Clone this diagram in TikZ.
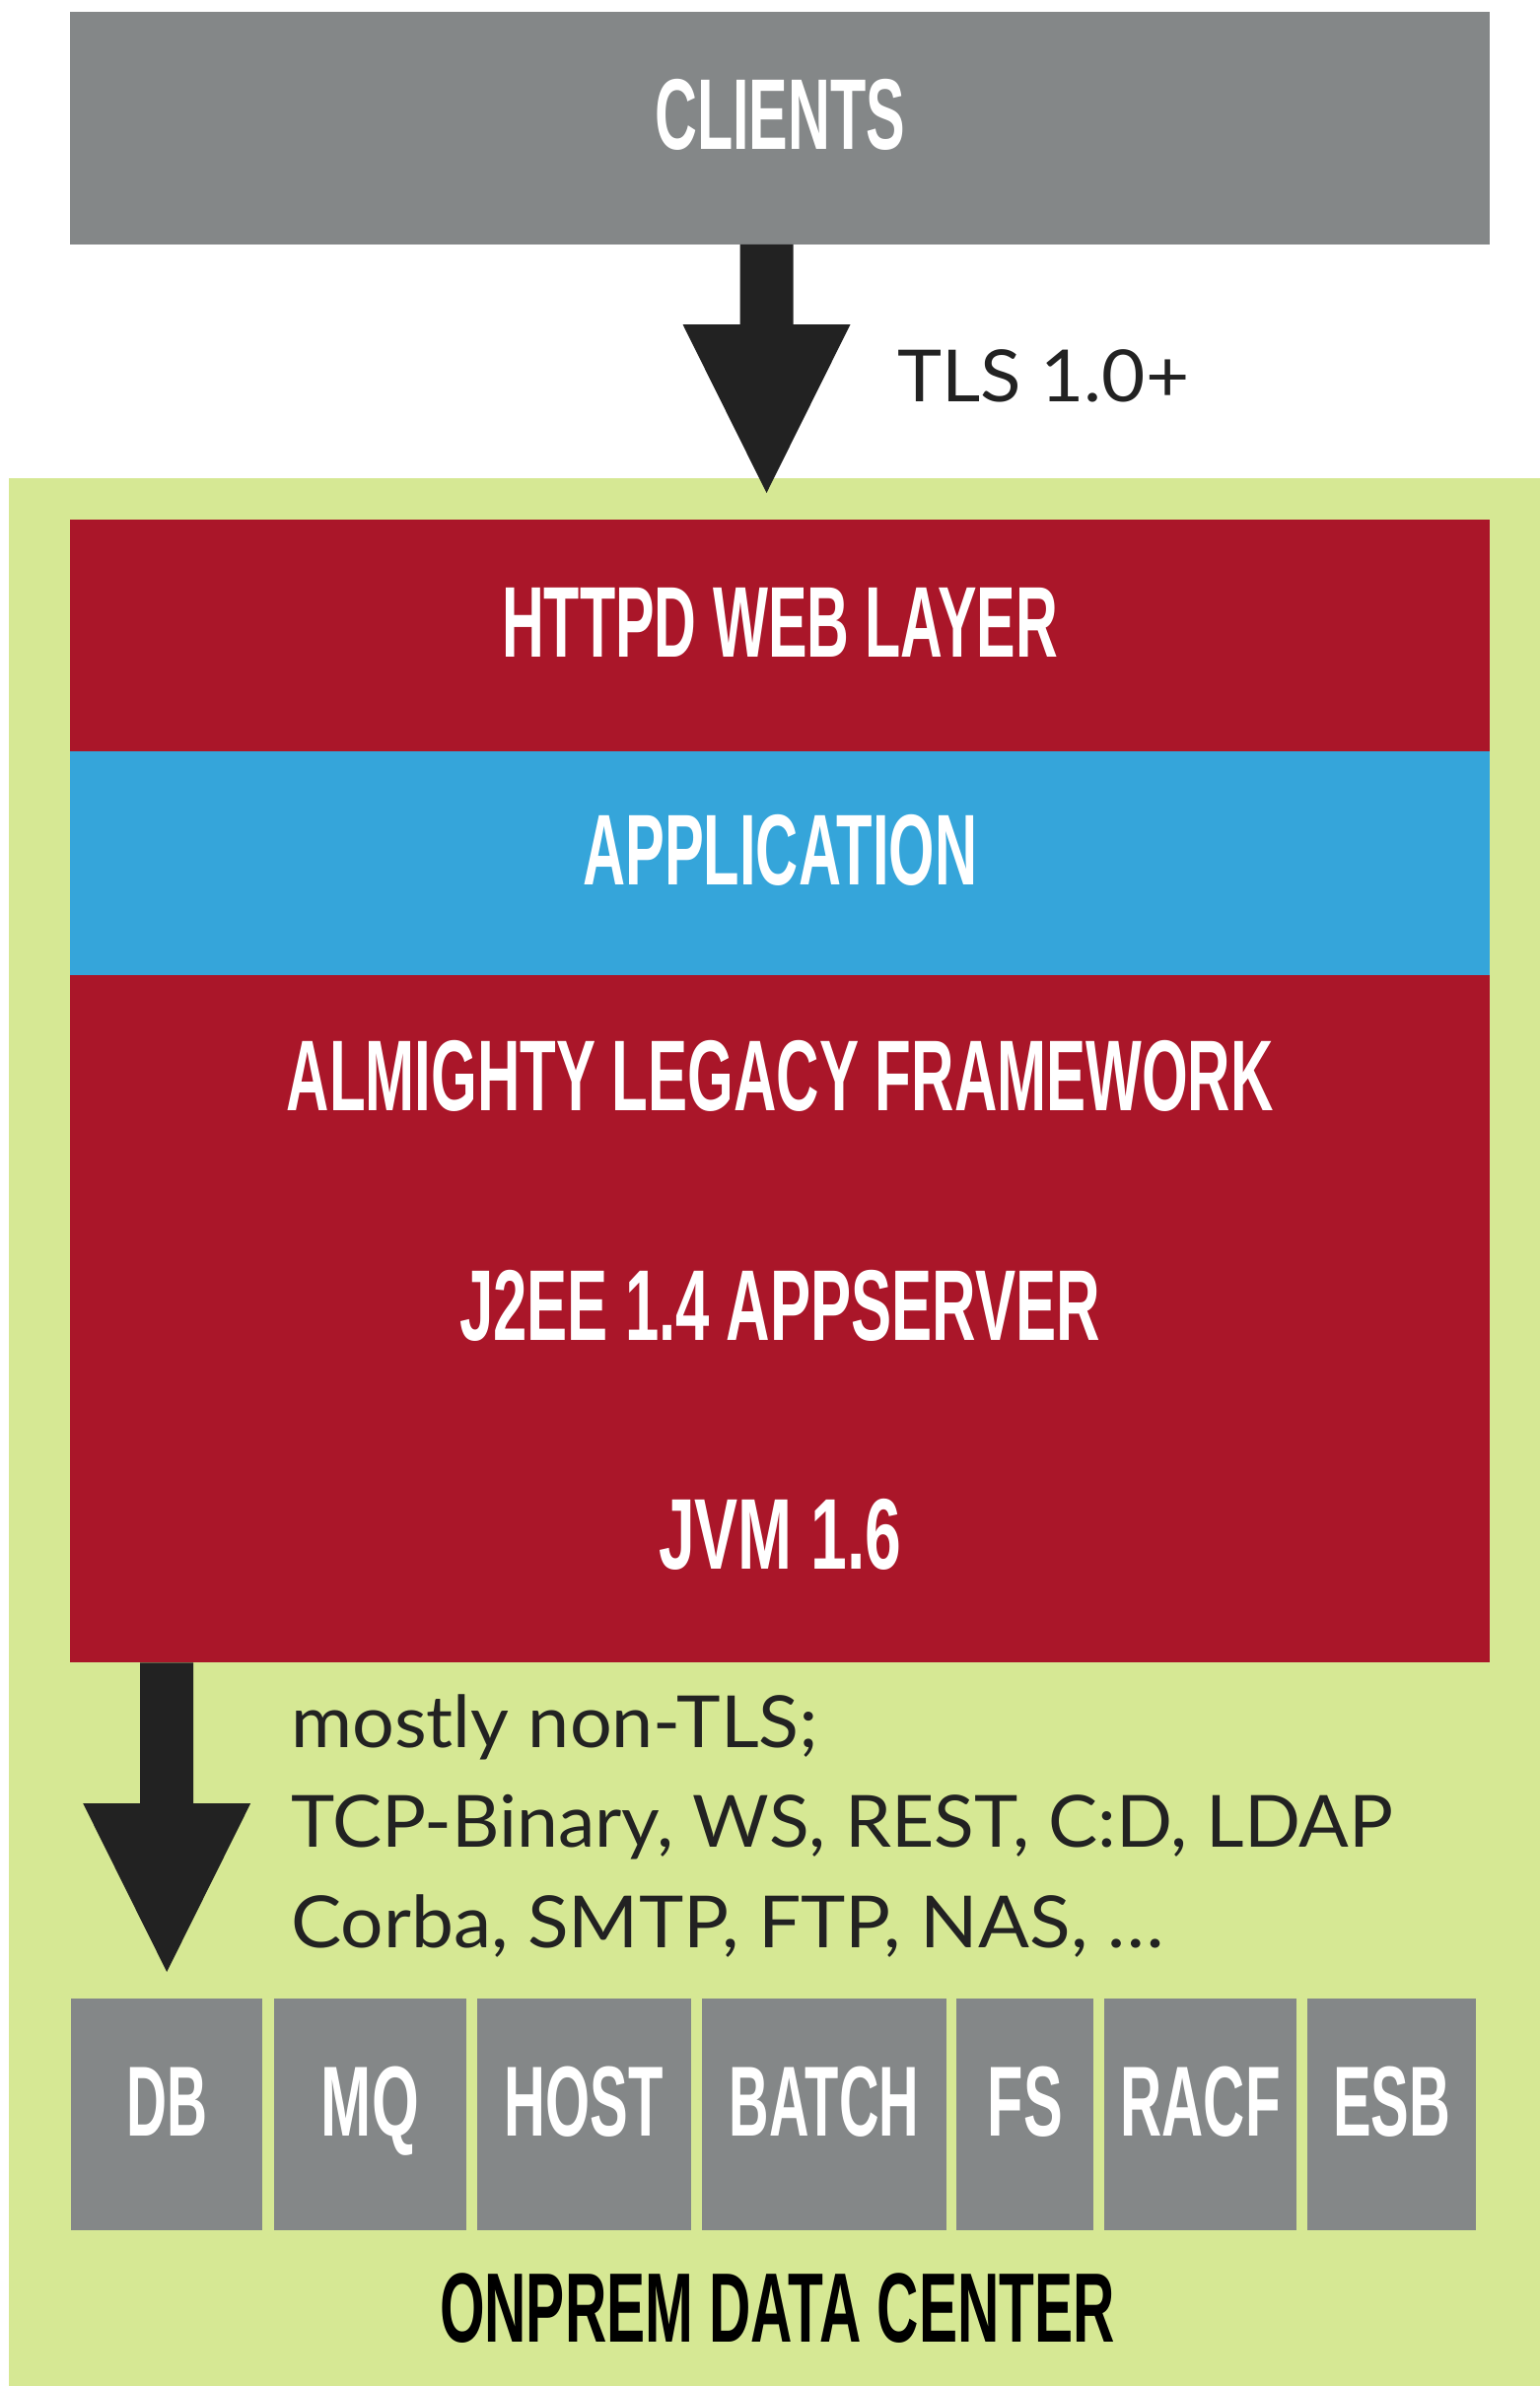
\documentclass[tikz,border=0pt]{standalone}
\usepackage{fontspec}
\usepackage{graphicx}
\usetikzlibrary{calc}

\newfontfamily\dinfont{Liberation Sans}
\newfontfamily\avfont{Lato}

\definecolor{slab}{HTML}{848788}
\definecolor{legacyred}{HTML}{AA1629}
\definecolor{appblue}{HTML}{35A5DA}
\definecolor{dcgreen}{HTML}{D6E894}
\definecolor{ink}{HTML}{222222}

% squeeze a label horizontally to a given width (in pt), keeping its height
\newcommand\fitw[2]{\resizebox{#1pt}{\height}{#2}}

% solid block arrow: #1 = start of the shaft, #2 = tip
\newcommand\blockarrow[2]{%
  \fill[ink] ($(#1)+(-27,0)$) -- ($(#2)+(-27,-171)$) -- ($(#2)+(-85,-171)$)
    -- (#2) -- ($(#2)+(85,-171)$) -- ($(#2)+(27,-171)$) -- ($(#1)+(27,0)$) -- cycle;}

\tikzset{
  layer/.style={rectangle, fill=#1, inner sep=0pt, anchor=north west,
    minimum width=1440pt, text=white,
    font=\dinfont\bfseries\fontsize{102}{110}\selectfont,
    text height=73pt, text depth=30pt},
  backend/.style={rectangle, fill=slab, inner sep=0pt, anchor=north west,
    minimum height=235pt, text=white,
    font=\dinfont\bfseries\fontsize{101}{110}\selectfont,
    text height=72pt, text depth=29pt},
  note/.style={inner sep=0pt, anchor=base west, text=ink,
    font=\avfont\fontsize{73}{100}\selectfont},
}

\begin{document}
\begin{tikzpicture}[x=1pt,y=-1pt]
  \useasboundingbox (0,0) rectangle (1562,2420);
  \fill[white] (0,0) rectangle (1562,2420);

  % data center area
  \fill[dcgreen] (9,485) rectangle (1562,2420);

  % clients
  \node[layer=slab, minimum height=235.5pt] (clients) at (71,12) {\fitw{254}{CLIENTS}};

  % application stack
  \node[layer=legacyred, minimum height=235pt] (httpd) at (71,527) {\fitw{564}{HTTPD WEB LAYER}};
  \node[layer=appblue, minimum height=227pt] (app) at (71,762) {\fitw{400}{APPLICATION}};
  \node[layer=legacyred, minimum height=232.4pt] (framework) at (71,989) {\fitw{1001}{ALMIGHTY LEGACY FRAMEWORK}};
  \node[layer=legacyred, minimum height=232.4pt] (appserver) at (71,1221.3) {\fitw{650}{J2EE 1.4 APPSERVER}};
  \node[layer=legacyred, minimum height=232.4pt] (jvm) at (71,1453.6) {\fitw{246}{JVM 1.6}};

  % inbound connection
  \coordinate (tlstip) at (777.5,500);
  \coordinate (tlsstart) at (clients.south -| tlstip);
  \blockarrow{tlsstart}{tlstip}
  \node[note] (tls) at (910,407) {\fitw{296}{TLS 1.0+}};

  % outbound connections
  \coordinate (backtip) at (169.2,2000);
  \coordinate (backstart) at (jvm.south -| backtip);
  \blockarrow{backstart}{backtip}
  \node[note] (proto1) at (295,1772.7) {\fitw{535}{mostly non-TLS;}};
  \node[note] (proto2) at (295,1873.3) {\fitw{1118}{TCP-Binary, WS, REST, C:D, LDAP}};
  \node[note] (proto3) at (295,1975) {\fitw{885}{Corba, SMTP, FTP, NAS, …}};

  % backend systems
  \node[backend, minimum width=194pt] (db) at (72,2027) {\fitw{82}{DB}};
  \node[backend, minimum width=194.5pt] (mq) at (278,2027) {\fitw{99}{MQ}};
  \node[backend, minimum width=216.5pt] (host) at (484,2027) {\fitw{161}{HOST}};
  \node[backend, minimum width=247.5pt] (batch) at (712,2027) {\fitw{192}{BATCH}};
  \node[backend, minimum width=139pt] (fs) at (970,2027) {\fitw{76}{FS}};
  \node[backend, minimum width=195pt] (racf) at (1120,2027) {\fitw{162}{RACF}};
  \node[backend, minimum width=171pt] (esb) at (1326,2027) {\fitw{119}{ESB}};

  \node[inner sep=0pt, anchor=base, text=black,
    font=\dinfont\bfseries\fontsize{100}{110}\selectfont] (dclabel)
    at (788.5,2375) {\fitw{685}{ONPREM DATA CENTER}};
\end{tikzpicture}
\end{document}
